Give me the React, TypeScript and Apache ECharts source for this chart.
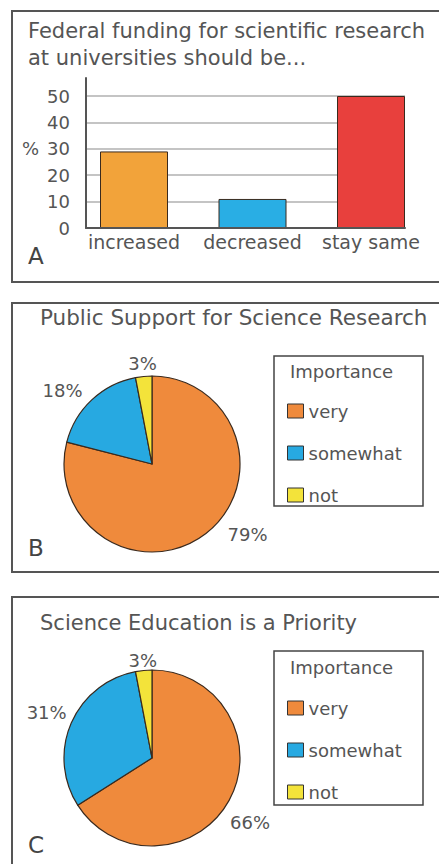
import React, { useEffect, useRef } from "react";
import * as echarts from "echarts";

// ---- data ----
const barCategories = ["increased", "decreased", "stay same"];
const barValues = [29, 11, 50];
const pieCategories = ["very", "somewhat", "not"];
const researchValues = [79, 18, 3];
const educationValues = [66, 31, 3];
const legendTitle = "Importance";
const titleA = "Federal funding for scientific research\nat universities should be...";
const titleB = "Public Support for Science Research";
const titleC = "Science Education is a Priority";

// ---- styles ----
const FONT = "DejaVu Sans";
const TEXT = "#555";
const barColors = ["#f2a33a", "#29aee4", "#e8403d"];
const pieColors = ["#ef8a3c", "#27a9e1", "#f3e33a"];

export default function App() {
  const ref = useRef<HTMLDivElement>(null);
  useEffect(() => {
    if (!ref.current) return;
    const chart = echarts.init(ref.current, undefined, { renderer: "svg" });

    const pieData = (vals: number[], tweaks: any[]) =>
      vals.map((v, i) => ({
        name: pieCategories[i],
        value: v,
        itemStyle: { color: pieColors[i] },
        labelLine: { length: tweaks[i].len, length2: tweaks[i].len2 },
        label: { distanceToLabelLine: tweaks[i].dist },
      }));

    const tweaksB = [
      { len: 1, len2: 16, dist: 5, layout: {} },
      { len: 13.5, len2: 0, dist: 0, layout: {} },
      { len: 13.4, len2: 0, dist: 0, layout: { align: "center" } },
    ];
    const tweaksC = [
      { len: 1, len2: 0, dist: 0, layout: { dy: 22 } },
      { len: 5, len2: 0, dist: 0, layout: { dy: -9 } },
      { len: 10.4, len2: 0, dist: 0, layout: { align: "center" } },
    ];

    const pieSeries = (vals: number[], center: number[], tweaks: any[]) => ({
      type: "pie",
      center,
      radius: 88,
      startAngle: 90,
      clockwise: true,
      avoidLabelOverlap: false,
      selectedMode: false,
      silent: true,
      itemStyle: { borderColor: "#3a2a1e", borderWidth: 1.2 },
      label: {
        show: true,
        position: "outside",
        formatter: "{c}%",
        fontSize: 18,
        color: TEXT,
        fontFamily: FONT,
      },
      labelLine: { show: false },
      labelLayout: (p: any) => tweaks[p.dataIndex].layout,
      data: pieData(vals, tweaks),
    });

    const legend = (top: number) => ({
      orient: "vertical",
      left: 287,
      top,
      padding: 0,
      itemWidth: 16,
      itemHeight: 14,
      itemGap: 24,
      icon: "rect",
      selectedMode: false,
      data: pieCategories,
      itemStyle: { borderColor: "#333", borderWidth: 1 },
      textStyle: { fontSize: 18, color: TEXT, fontFamily: FONT, lineHeight: 18 },
    });

    const titleStyle = {
      fontSize: 21,
      fontWeight: "normal",
      color: TEXT,
      fontFamily: FONT,
      lineHeight: 27.5,
    };

    const letter = (t: string, y: number) => ({
      type: "text",
      silent: true,
      style: { text: t, x: 28, y, fontSize: 23, fill: "#444", fontFamily: FONT, verticalAlign: "middle" },
    });

    const option: any = {
      animation: false,
      backgroundColor: "#fff",
      textStyle: { fontFamily: FONT },
      title: [
        { text: titleA, left: 28, top: 17, padding: 0, textStyle: titleStyle },
        { text: titleB, left: 40, top: 304, padding: 0, textStyle: { ...titleStyle, fontSize: 21.5 } },
        { text: titleC, left: 40, top: 609, padding: 0, textStyle: titleStyle },
      ],
      legend: [legend(402), legend(699)],
      grid: [
        { left: 86, top: 78, width: 319, height: 150 },
        { left: 86, top: 96, width: 319, height: 132 },
        { left: 74.75, top: 96, width: 355.5, height: 132 },
      ],
      xAxis: [
        {
          gridIndex: 0,
          type: "value",
          min: 0,
          max: 1,
          z: 3,
          axisLine: { show: true, lineStyle: { color: "#555", width: 2 } },
          axisTick: { show: false },
          axisLabel: { show: false },
          splitLine: { show: false },
        },
        { gridIndex: 1, type: "value", min: 0, max: 1, show: false },
        {
          gridIndex: 2,
          type: "category",
          data: barCategories,
          axisLine: { show: false },
          axisTick: { show: false },
          axisLabel: { interval: 0, margin: 4, fontSize: 19, color: TEXT, fontFamily: FONT },
        },
      ],
      yAxis: [
        {
          gridIndex: 0,
          type: "value",
          min: 0,
          max: 56.8,
          z: 3,
          axisLine: { show: true, lineStyle: { color: "#555", width: 2 } },
          axisTick: { show: false },
          axisLabel: { show: false },
          splitLine: { show: false },
        },
        {
          gridIndex: 1,
          type: "value",
          min: 0,
          max: 50,
          interval: 10,
          axisLine: { show: false },
          axisTick: { show: false },
          axisLabel: { margin: 16, fontSize: 18, color: TEXT, fontFamily: FONT },
          splitLine: { show: true, lineStyle: { color: "#b0b0b0", width: 1.5 } },
        },
        { gridIndex: 2, type: "value", min: 0, max: 50, show: false },
      ],
      series: [
        {
          type: "bar",
          xAxisIndex: 2,
          yAxisIndex: 2,
          barWidth: 68,
          silent: true,
          itemStyle: { borderColor: "#3a2a1e", borderWidth: 1 },
          data: barValues.map((v, i) => ({ value: v, itemStyle: { color: barColors[i] } })),
        },
        pieSeries(researchValues, [152, 464], tweaksB),
        pieSeries(educationValues, [152, 758], tweaksC),
      ],
      graphic: [
        { type: "rect", silent: true, shape: { x: 12, y: 11, width: 460, height: 271 }, style: { fill: "none", stroke: "#555", lineWidth: 2 } },
        { type: "rect", silent: true, shape: { x: 12, y: 303, width: 460, height: 269 }, style: { fill: "none", stroke: "#555", lineWidth: 2 } },
        { type: "rect", silent: true, shape: { x: 12, y: 597, width: 460, height: 300 }, style: { fill: "none", stroke: "#555", lineWidth: 2 } },
        { type: "rect", silent: true, shape: { x: 274, y: 356, width: 149, height: 150 }, style: { fill: "none", stroke: "#444", lineWidth: 1.5 } },
        { type: "rect", silent: true, shape: { x: 274, y: 651, width: 149, height: 154 }, style: { fill: "none", stroke: "#444", lineWidth: 1.5 } },
        { type: "text", silent: true, style: { text: legendTitle, x: 290, y: 371, fontSize: 18, fill: TEXT, fontFamily: FONT, verticalAlign: "middle" } },
        { type: "text", silent: true, style: { text: legendTitle, x: 290, y: 667, fontSize: 18, fill: TEXT, fontFamily: FONT, verticalAlign: "middle" } },
        { type: "text", silent: true, style: { text: "%", x: 22, y: 148, fontSize: 18, fill: TEXT, fontFamily: FONT, verticalAlign: "middle" } },
        letter("A", 256),
        letter("B", 548),
        letter("C", 845),
      ],
    };

    chart.setOption(option);
    return () => chart.dispose();
  }, []);

  return (
    <div
      ref={ref}
      style={{ position: "fixed", left: 0, top: 0, width: 439, height: 864, background: "#fff" }}
    />
  );
}
